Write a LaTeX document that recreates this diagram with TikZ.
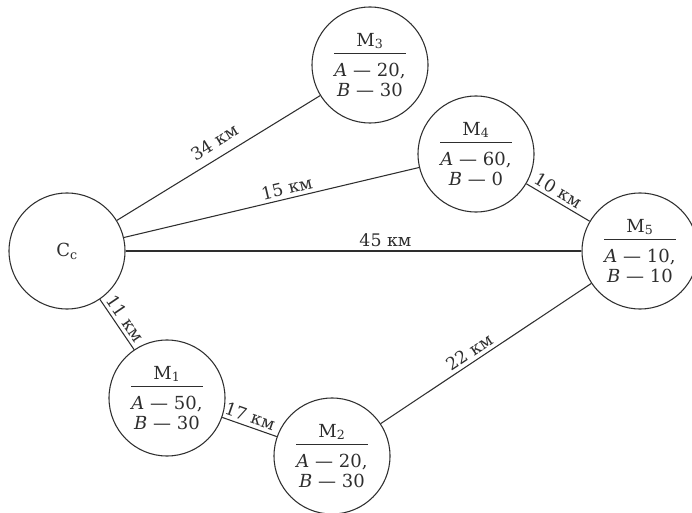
\documentclass[tikz,border=0pt]{standalone}
\usepackage{fontspec}
\setmainfont{DejaVu Serif}
\usepackage{xcolor}
\definecolor{ink}{HTML}{2E2E2E}
\usepackage{tikz}
\tikzset{
  every picture/.style={line width=0.8pt},
  site/.style={circle, draw=ink, text=ink, align=center, minimum size=87pt, inner sep=0pt,
    font=\fontsize{13.5}{15}\selectfont},
  road/.style={draw=ink},
  dist/.style={sloped, above, text=ink, inner sep=2.5pt, font=\fontsize{13}{15}\selectfont},
}
\newcommand{\stock}[3]{M\textsubscript{#1}\\[-9pt]\rule{54pt}{0.8pt}\\[2pt]\textit{A} — #2,\\\textit{B} — #3}

\begin{document}
\begin{tikzpicture}[x=0.75pt, y=-0.75pt]
  \useasboundingbox (0,0) rectangle (692,513);
  % warehouse and shops
  \node[site] (base) at (67,251) {С\textsubscript{с}};
  \node[site] (m1) at (167,398) {\stock{1}{50}{30}};
  \node[site] (m2) at (332,456) {\stock{2}{20}{30}};
  \node[site] (m3) at (370,65) {\stock{3}{20}{30}};
  \node[site] (m4) at (476,154) {\stock{4}{60}{0}};
  \node[site] (m5) at (640,251) {\stock{5}{10}{10}};
  % roads
  \draw[road] (base) -- node[dist, pos=0.52, yshift=4pt] {34 км} (m3);
  \draw[road] (base) -- node[dist, pos=0.56] {15 км} (m4);
  \draw[road] (base) -- node[dist, pos=0.57] {45 км} (m5);
  \draw[road] (m4) -- node[dist, pos=0.42] {10 км} (m5);
  \draw[road] (base) -- node[dist, pos=0.5] {11 км} (m1);
  \draw[road] (m1) -- node[dist, pos=0.45] {17 км} (m2);
  \draw[road] (m2) -- node[dist, pos=0.45] {22 км} (m5);
\end{tikzpicture}
\end{document}
